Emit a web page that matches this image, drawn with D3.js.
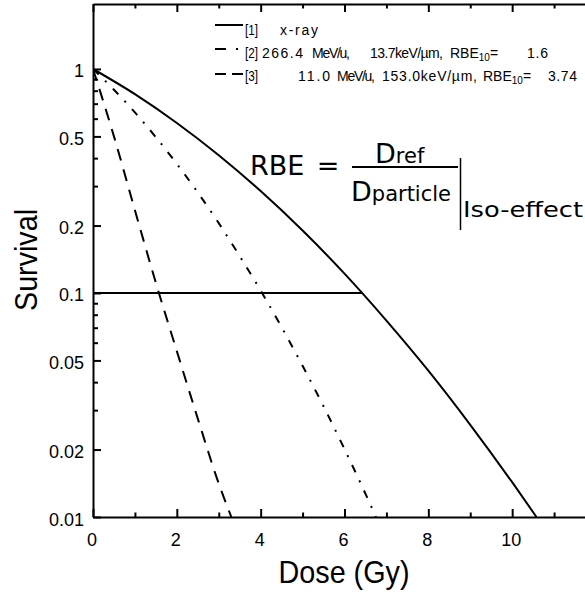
<!DOCTYPE html>
<html>
<head>
<meta charset="utf-8">
<script src="https://cdn.jsdelivr.net/npm/d3@7"></script>
<style>
  html, body { margin: 0; padding: 0; background: #fff; }
  svg { display: block; }
</style>
</head>
<body>
<script>
// Cell survival versus absorbed dose for photons and two ion beams
const doseXray = [0, 1, 2, 3, 4, 5, 6, 7, 8, 9, 10, 10.58];
const survXray = [1, 0.772, 0.574, 0.412, 0.285, 0.190, 0.122, 0.0753, 0.0450, 0.0258, 0.0143, 0.0100];

const doseIonA = [0, 0.5, 1, 1.5, 2, 2.5, 3, 3.5, 4, 4.5, 5, 5.5, 6, 6.5, 6.75];
const survIonA = [1, 0.808, 0.640, 0.496, 0.377, 0.281, 0.205, 0.146, 0.1025, 0.0704, 0.0473, 0.0312, 0.0201, 0.0127, 0.0100];

const doseIonB = [0, 0.5, 1, 1.5, 2, 2.5, 3, 3.3];
const survIonB = [1, 0.50, 0.234, 0.111, 0.055, 0.0275, 0.0141, 0.0100];

// iso-effect level and the reference (x-ray) dose that reaches it
const isoLevel = 0.1;
const isoRefDose = 6.42;

const xMajorTicks = [0, 2, 4, 6, 8, 10, 12];
const xMinorTicks = [1, 3, 5, 7, 9, 11];
const xTickLabels = ["0", "2", "4", "6", "8", "10"];
const yLabelTicks = [0.01, 0.02, 0.05, 0.1, 0.2, 0.5, 1];
const yTickLabels = ["0.01", "0.02", "0.05", "0.1", "0.2", "0.5", "1"];
const yMinorTicks = [0.03, 0.04, 0.06, 0.07, 0.08, 0.09, 0.3, 0.4, 0.6, 0.7, 0.8, 0.9];

const legendNames = ["[1]", "[2]", "[3]"];

const W = 585, H = 594;
const svg = d3.select("body").append("svg").attr("width", W).attr("height", H);

const x = d3.scaleLinear().domain([0, 12]).range([93, 596]);
const y = d3.scaleLog().domain([0.01, 1.95]).range([517, 4]);

const ink = "#000";
const tickFont = "'Liberation Sans', Arial, sans-serif";

// clip for curves
svg.append("defs").append("clipPath").attr("id", "plotClip")
  .append("rect").attr("x", x(0)).attr("y", y(1.95)).attr("width", x(12) - x(0)).attr("height", y(0.01) - y(1.95));

// ----- axes -----
function styleAxis(g) {
  g.selectAll("path.domain").attr("stroke", ink).attr("stroke-width", 2);
  g.selectAll(".tick line").attr("stroke", ink).attr("stroke-width", 2);
}

// bottom axis
const gxb = svg.append("g").attr("transform", `translate(0,${y(0.01)})`)
  .call(d3.axisBottom(x).tickValues(xMajorTicks).tickSize(-8).tickSizeOuter(0).tickFormat(""));
styleAxis(gxb);
const gxbm = svg.append("g").attr("transform", `translate(0,${y(0.01)})`)
  .call(d3.axisBottom(x).tickValues(xMinorTicks).tickSize(-4.5).tickSizeOuter(0).tickFormat(""));
styleAxis(gxbm);
gxbm.select("path.domain").remove();

// top axis
const gxt = svg.append("g").attr("transform", `translate(0,${y(1.95)})`)
  .call(d3.axisTop(x).tickValues(xMajorTicks).tickSize(-8).tickSizeOuter(0).tickFormat(""));
styleAxis(gxt);
const gxtm = svg.append("g").attr("transform", `translate(0,${y(1.95)})`)
  .call(d3.axisTop(x).tickValues(xMinorTicks).tickSize(-4.5).tickSizeOuter(0).tickFormat(""));
styleAxis(gxtm);
gxtm.select("path.domain").remove();

// left axis
const gyl = svg.append("g").attr("transform", `translate(${x(0)},0)`)
  .call(d3.axisLeft(y).tickValues(yLabelTicks).tickSize(-8).tickSizeOuter(0).tickFormat(""));
styleAxis(gyl);
const gylm = svg.append("g").attr("transform", `translate(${x(0)},0)`)
  .call(d3.axisLeft(y).tickValues(yMinorTicks).tickSize(-5).tickSizeOuter(0).tickFormat(""));
styleAxis(gylm);
gylm.select("path.domain").remove();

// x tick labels
svg.append("g").selectAll("text").data(xTickLabels).join("text")
  .attr("x", (d, i) => x(xMajorTicks[i]) - 1)
  .attr("y", 546)
  .attr("text-anchor", "middle")
  .attr("font-family", tickFont).attr("font-size", 18)
  .attr("fill", ink)
  .text(d => d);

// y tick labels
svg.append("g").selectAll("text").data(yTickLabels).join("text")
  .attr("x", 84)
  .attr("y", (d, i) => y(yLabelTicks[i]) + 8.5)
  .attr("text-anchor", "end")
  .attr("font-family", tickFont).attr("font-size", 18)
  .attr("fill", ink)
  .text(d => d);

// axis titles
svg.append("text")
  .attr("x", 344).attr("y", 583)
  .attr("text-anchor", "middle")
  .attr("font-family", tickFont).attr("font-size", 32)
  .attr("textLength", 131).attr("lengthAdjust", "spacingAndGlyphs")
  .attr("fill", ink)
  .text("Dose (Gy)");

svg.append("text")
  .attr("transform", "translate(37,260) rotate(-90)")
  .attr("text-anchor", "middle")
  .attr("font-family", tickFont).attr("font-size", 32)
  .attr("textLength", 102).attr("lengthAdjust", "spacingAndGlyphs")
  .attr("fill", ink)
  .text("Survival");

// ----- curves -----
const line = d3.line().x(d => x(d[0])).y(d => y(d[1])).curve(d3.curveMonotoneX);
const curves = svg.append("g").attr("clip-path", "url(#plotClip)");

curves.append("path")
  .datum(d3.zip(doseXray, survXray))
  .attr("d", line).attr("fill", "none").attr("stroke", ink).attr("stroke-width", 2);

curves.append("path")
  .datum(d3.zip(doseIonA, survIonA))
  .attr("d", line).attr("fill", "none").attr("stroke", ink).attr("stroke-width", 2)
  .attr("stroke-dasharray", "8,9,2,9");

curves.append("path")
  .datum(d3.zip(doseIonB, survIonB))
  .attr("d", line).attr("fill", "none").attr("stroke", ink).attr("stroke-width", 2)
  .attr("stroke-dasharray", "12,9");

// iso-effect level up to the reference curve
svg.append("line")
  .attr("x1", x(0)).attr("x2", x(isoRefDose))
  .attr("y1", y(isoLevel)).attr("y2", y(isoLevel))
  .attr("stroke", ink).attr("stroke-width", 2);

// ----- legend -----
const legFont = "'Liberation Sans', Arial, sans-serif";
const leg = svg.append("g").attr("font-family", legFont).attr("font-size", 14).attr("fill", ink);
const rowBase = [35, 58, 81];
const rowLine = [25, 49, 74];
const sampleDash = [null, "11,10,2,20", "11,6"];

rowLine.forEach((ly, i) => {
  leg.append("line")
    .attr("x1", 215).attr("x2", 243).attr("y1", ly).attr("y2", ly)
    .attr("stroke", ink).attr("stroke-width", 2)
    .attr("stroke-dasharray", sampleDash[i]);
  leg.append("text").attr("x", 245).attr("y", rowBase[i])
    .attr("textLength", 13).attr("lengthAdjust", "spacingAndGlyphs").text(legendNames[i]);
});

function seg(text, x0, w, row) {
  leg.append("text").attr("x", x0).attr("y", rowBase[row])
    .attr("textLength", w).attr("lengthAdjust", "spacing").text(text);
}
function rbe(x0, row, val, valX, valW) {
  const t = leg.append("text").attr("x", x0).attr("y", rowBase[row]);
  t.append("tspan").text("RBE");
  t.append("tspan").attr("font-size", 10).attr("dy", 3).text("10");
  t.append("tspan").attr("dy", -3).text("=");
  seg(val, valX, valW, row);
}

seg("x-ray", 280, 38, 0);

seg("266.4", 262, 41, 1);
seg("MeV/u,", 312, 38, 1);
seg("13.7keV/\u00b5m,", 370, 73, 1);
rbe(450, 1, "1.6", 527, 21);

seg("11.0", 298, 32, 2);
seg("MeV/u,", 337, 38, 2);
seg("153.0keV/\u00b5m,", 382, 95, 2);
rbe(483, 2, "3.74", 548, 29);

// ----- RBE definition -----
const fF = "'DejaVu Sans', Verdana, sans-serif";
const eq = svg.append("g").attr("font-family", fF).attr("fill", ink);
eq.append("text").attr("x", 250).attr("y", 175).attr("font-size", 27).text("RBE");
eq.append("text").attr("x", 328).attr("y", 175).attr("font-size", 27).attr("text-anchor", "middle").text("=");
eq.append("line").attr("x1", 352).attr("x2", 458).attr("y1", 167).attr("y2", 167)
  .attr("stroke", ink).attr("stroke-width", 2);
const num = eq.append("text").attr("x", 375).attr("y", 163).attr("font-size", 27);
num.append("tspan").text("D");
num.append("tspan").attr("font-size", 21).text("ref");
const den = eq.append("text").attr("x", 351).attr("y", 201).attr("font-size", 27);
den.append("tspan").text("D");
den.append("tspan").attr("font-size", 21).text("particle");
eq.append("line").attr("x1", 460.5).attr("x2", 460.5).attr("y1", 158).attr("y2", 230)
  .attr("stroke", ink).attr("stroke-width", 1.5);
eq.append("text").attr("x", 463).attr("y", 217).attr("font-size", 21)
  .attr("textLength", 120).attr("lengthAdjust", "spacingAndGlyphs").text("Iso-effect");
</script>
</body>
</html>
